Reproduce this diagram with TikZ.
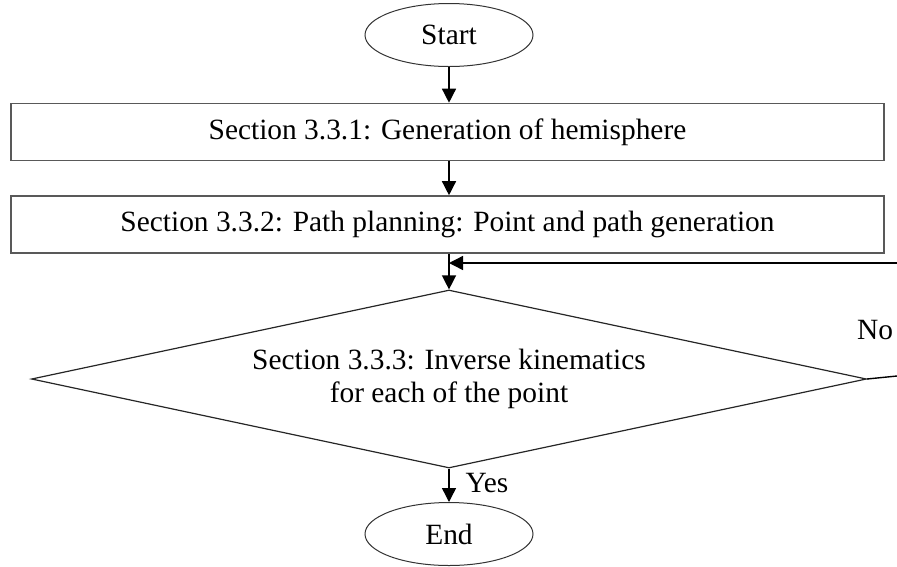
\documentclass[tikz,border=0pt]{standalone}
\usepackage{fontspec}
\setmainfont{Liberation Serif}
\usetikzlibrary{shapes.geometric,arrows.meta}
\begin{document}
\begin{tikzpicture}[x=1pt,y=-1pt,
		font=\fontsize{29.4}{33}\selectfont,
		terminal/.style={ellipse,draw=black!80,line width=1pt,minimum width=168pt,minimum height=63pt,inner sep=0pt},
		stage/.style={rectangle,draw=black!65,line width=1.6pt,minimum width=873pt,minimum height=57pt,inner sep=0pt},
		test/.style={diamond,aspect=4.69,draw=black!85,line width=1.2pt,minimum width=835pt,minimum height=178pt,inner sep=0pt,align=center},
		flow/.style={line width=1.4pt,-{Triangle[length=14pt,width=14pt]}}]
			\useasboundingbox (0,0) rectangle (897,566);
			\clip (0,0) rectangle (897,566);
			\node[terminal] (start) at (449,35) {Start};
			\node[stage] (hemi) at (447.5,132) {Section 3.3.1: Generation of hemisphere};
			\node[stage] (path) at (447.5,224.5) {Section 3.3.2: Path planning: Point and path generation};
			\node[test] (ik) at (449,379) {Section 3.3.3: Inverse kinematics\\for each of the point};
			\node[terminal] (end) at (449,534) {End};
			\coordinate (loop) at (897,263);
			\coordinate (join) at (449,263);
			\coordinate (noend) at (897,376);
			
			\draw[flow] (start.south) -- (hemi.north -| start.south);
			\draw[flow] (hemi.south -| start.south) -- (path.north -| start.south);
			\draw[flow] (path.south -| ik.north) -- (ik.north);
			\draw[flow] (loop) -- (join);
			\draw[line width=1.4pt] (ik.east) -- (noend);
			\draw[flow] (ik.south) -- (end.north);
			\node at (875,330) {No};
			\node at (487,483) {Yes};
		\end{tikzpicture}
\end{document}
